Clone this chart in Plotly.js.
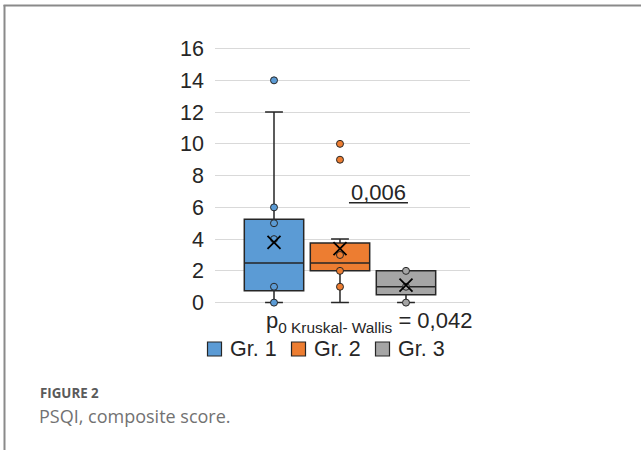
<!DOCTYPE html>
<html>
<head>
<meta charset="utf-8">
<script src="https://cdn.plot.ly/plotly-3.0.1.min.js"></script>
<style>
html,body{margin:0;padding:0;background:#fff;}
#chart{width:641px;height:450px;}
</style>
</head>
<body>
<div id="chart"></div>
<script>
// ---- data ----
var groups = ["Gr. 1", "Gr. 2", "Gr. 3"];
var groupPos = [0, 1, 2];
var q1 = [0.75, 2.0, 0.5];
var medians = [2.5, 2.5, 1.0];
var q3 = [5.25, 3.75, 2.0];
var lowerWhisker = [0, 0, 0];
var upperWhisker = [12, 4, 2];
var means = [3.8, 3.4, 1.1];
var pointsG1 = [0, 1, 4, 5, 6, 14];
var pointsG2 = [1, 2, 3, 9, 10];
var pointsG3 = [0, 1, 2];
var groupPoints = [pointsG1, pointsG2, pointsG3];
var pairP = "0,006";
var kwP = "0,042";
var yTicks = [0, 2, 4, 6, 8, 10, 12, 14, 16];
var colors = ["#5B9BD5", "#ED7D31", "#A5A5A5"];

// ---- geometry helpers (pixel -> paper) ----
var W = 641, H = 450, ML = 215, MR = 171, MT = 47, MB = 145;
var PW = W - ML - MR, PH = H - MT - MB;
function pxX(x){ return (x - ML) / PW; }
function pxY(y){ return (H - MB - y) / PH; }

var dark = "#262626";
var font = "'Liberation Sans', Arial, sans-serif";
var traces = [];

groups.forEach(function(g, i){
  traces.push({
    type: "box",
    name: g,
    x: [groupPos[i]],
    q1: [q1[i]], median: [medians[i]], q3: [q3[i]],
    lowerfence: [lowerWhisker[i]], upperfence: [upperWhisker[i]],
    width: 0.9,
    whiskerwidth: 0.3,
    fillcolor: colors[i],
    line: {color: dark, width: 1.5},
    boxpoints: false,
    showlegend: false,
    hoverinfo: "skip"
  });
});

groups.forEach(function(g, i){
  var pts = groupPoints[i];
  traces.push({
    type: "scatter", mode: "markers",
    x: pts.map(function(){ return groupPos[i]; }),
    y: pts,
    marker: {symbol: "circle", size: 7, color: colors[i], line: {color: dark, width: 1}},
    showlegend: false, cliponaxis: false, hoverinfo: "skip"
  });
});

traces.push({
  type: "scatter", mode: "markers",
  x: groupPos, y: means,
  marker: {symbol: "x-thin-open", size: 13, color: "#000", line: {color: "#000", width: 1.8}},
  showlegend: false, cliponaxis: false, hoverinfo: "skip"
});

var annotations = [
  {
    xref: "x", yref: "y", x: 1.58, y: 6.92, text: pairP,
    showarrow: false, font: {family: font, size: 22, color: dark},
    xanchor: "center", yanchor: "middle"
  },
  {
    xref: "paper", yref: "paper", x: pxX(369), y: pxY(322),
    text: "p<sub>0 Kruskal- Wallis</sub> = " + kwP,
    showarrow: false, font: {family: font, size: 22, color: dark},
    xanchor: "center", yanchor: "middle"
  },
  {
    xref: "paper", yref: "paper", x: pxX(38), y: pxY(392.5),
    text: "<b>FIGURE 2</b>", showarrow: false,
    font: {family: "'Open Sans', sans-serif", size: 13.3, color: "#5a5a5a"},
    xanchor: "left", yanchor: "middle"
  },
  {
    xref: "paper", yref: "paper", x: pxX(37), y: pxY(416),
    text: "PSQI, composite score.", showarrow: false,
    font: {family: "'Open Sans', sans-serif", size: 18, color: "#727272"},
    xanchor: "left", yanchor: "middle"
  }
];

var shapes = [
  {type: "line", xref: "x", yref: "y", x0: 1.136, x1: 2.03, y0: 6.29, y1: 6.29,
   line: {color: dark, width: 1.5}},
  {type: "line", xref: "paper", yref: "paper", x0: pxX(3.5), x1: pxX(641), y0: pxY(5.5), y1: pxY(5.5),
   line: {color: "#8a8a8a", width: 2}},
  {type: "line", xref: "paper", yref: "paper", x0: pxX(4.5), x1: pxX(4.5), y0: pxY(5), y1: pxY(450),
   line: {color: "#8a8a8a", width: 2}}
];

// legend drawn as swatches + labels
groups.forEach(function(g, i){
  var x0 = 207.5 + 84 * i;
  shapes.push({
    type: "rect", xref: "paper", yref: "paper",
    x0: pxX(x0), x1: pxX(x0 + 14), y0: pxY(342), y1: pxY(356),
    fillcolor: colors[i], line: {color: dark, width: 1.2}
  });
  annotations.push({
    xref: "paper", yref: "paper", x: pxX(x0 + 20), y: pxY(349),
    text: g, showarrow: false, font: {family: font, size: 21.5, color: dark},
    xanchor: "left", yanchor: "middle"
  });
});

var layout = {
  width: W, height: H,
  margin: {l: ML, r: MR, t: MT, b: MB, pad: 0},
  paper_bgcolor: "#fff", plot_bgcolor: "#fff",
  font: {family: font, color: dark, size: 21},
  showlegend: false,
  xaxis: {
    type: "linear", range: [-0.894, 2.97],
    showgrid: false, zeroline: false, showticklabels: false, ticks: "",
    showline: false, fixedrange: true
  },
  yaxis: {
    range: [-0.15, 16.1],
    tickvals: yTicks, ticktext: yTicks.map(String),
    showgrid: true, gridcolor: "#D9D9D9", gridwidth: 1,
    zeroline: false, showline: false, ticks: "",
    ticklabelstandoff: 10,
    tickfont: {family: font, size: 21.5, color: dark},
    fixedrange: true
  },
  annotations: annotations,
  shapes: shapes
};

Plotly.newPlot("chart", traces, layout, {displayModeBar: false, staticPlot: true});
</script>
</body>
</html>
